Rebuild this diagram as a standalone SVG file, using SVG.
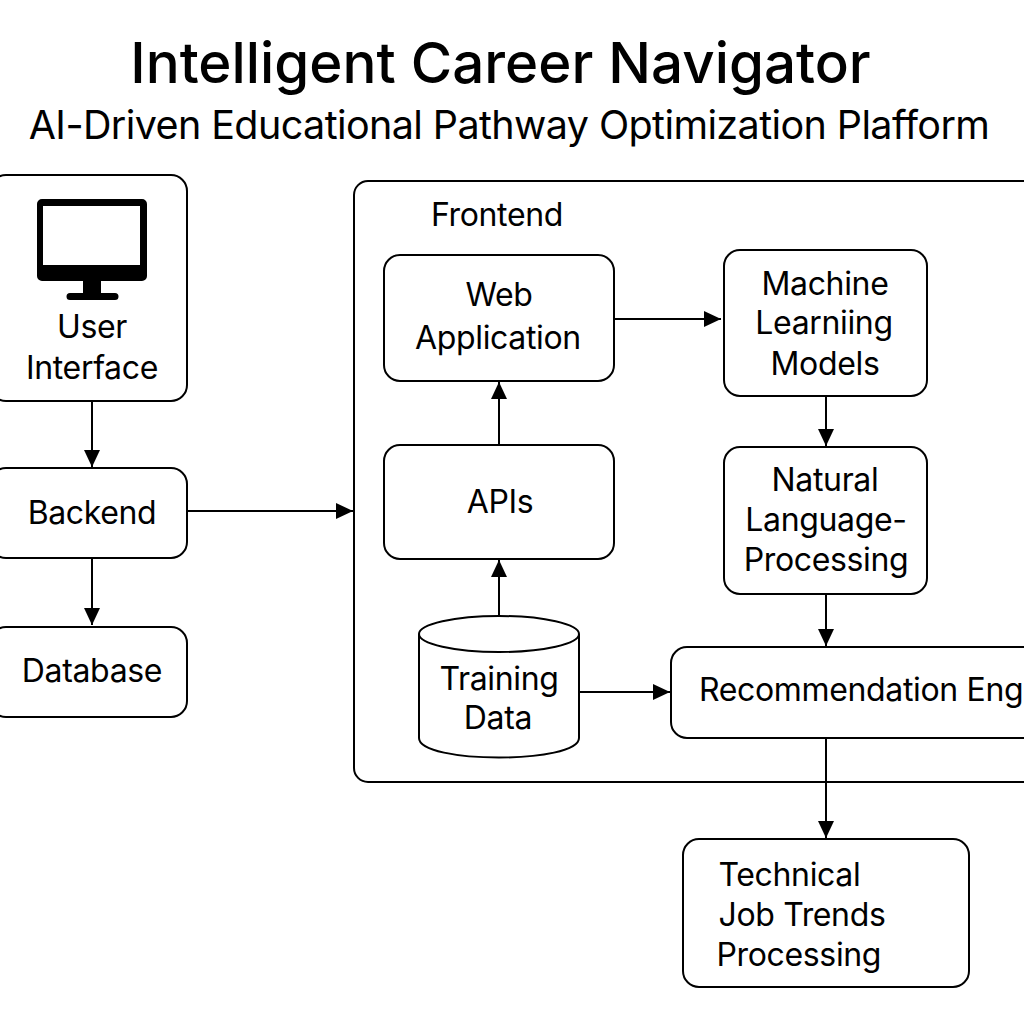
<svg xmlns="http://www.w3.org/2000/svg" width="1024" height="1024" viewBox="0 0 1024 1024">
<defs>
<marker id="arrow" markerUnits="userSpaceOnUse" markerWidth="18" markerHeight="18" refX="17" refY="9" orient="auto"><path d="M0,1 L17,9 L0,17 Z" fill="#000"/></marker>
</defs>
<style>
text{font-family:"Inter","Liberation Sans",sans-serif;fill:#000;text-anchor:middle;font-size:32px;letter-spacing:-0.35px}
.b{fill:#fff;stroke:#000;stroke-width:2}
.c{fill:none;stroke:#000;stroke-width:2;marker-end:url(#arrow)}
</style>
<rect width="1024" height="1024" fill="#fff"/>
<text x="500.500" y="83" style="font-size:56.500px;font-weight:550;letter-spacing:0">Intelligent Career Navigator</text>
<text x="509" y="139" style="font-size:39.500px;letter-spacing:-0.6px">AI-Driven Educational Pathway Optimization Plafform</text>
<g id="frontend-container"><rect class="b" x="354" y="181" width="700" height="601" rx="14"/><text x="497" y="226">Frontend</text></g>
<g id="connectors">
<path class="c" d="M92 402V467"/>
<path class="c" d="M92 558V625"/>
<path class="c" d="M188 511H353"/>
<path class="c" d="M499 445V382"/>
<path class="c" d="M499 616V560"/>
<path class="c" d="M614 319H721"/>
<path class="c" d="M826 396V446"/>
<path class="c" d="M826 594V646"/>
<path class="c" d="M580 692H670"/>
<path class="c" d="M826 738V838"/>
</g>
<g id="user-interface"><rect class="b" x="-10" y="175" width="197" height="226" rx="16"/>
<path d="M42 199H142A5 5 0 0 1 147 204V276A5 5 0 0 1 142 281H101V293H115A3.500 3.500 0 0 1 115 300H70A3.500 3.500 0 0 1 70 293H83V281H42A5 5 0 0 1 37 276V204A5 5 0 0 1 42 199ZM43 206V265H140V206Z" fill="#000" fill-rule="evenodd"/>
<text x="92" y="338">User</text><text x="92" y="379">Interface</text></g>
<g id="backend"><rect class="b" x="-10" y="468" width="197" height="90" rx="16"/><text x="92" y="524">Backend</text></g>
<g id="database"><rect class="b" x="-10" y="627" width="197" height="90" rx="16"/><text x="92" y="682">Database</text></g>
<g id="web-application"><rect class="b" x="384" y="255" width="230" height="126" rx="16"/><text x="499" y="306">Web</text><text x="498" y="349">Application</text></g>
<g id="apis"><rect class="b" x="384" y="445" width="230" height="114" rx="16"/><text x="500" y="513">APIs</text></g>
<g id="training-data"><path class="b" d="M419 634V738C419 764 579 764 579 738V634"/><ellipse class="b" cx="499" cy="634" rx="80" ry="18"/><text x="499" y="690">Training</text><text x="498" y="729">Data</text></g>
<g id="ml-models"><rect class="b" x="724" y="250" width="203" height="146" rx="16"/><text x="825" y="295">Machine</text><text x="824" y="334">Learniing</text><text x="825" y="375">Models</text></g>
<g id="nlp"><rect class="b" x="724" y="447" width="203" height="147" rx="16"/><text x="825" y="491">Natural</text><text x="826" y="531">Language-</text><text x="826" y="571">Processing</text></g>
<g id="recommendation-engine"><rect class="b" x="671" y="647" width="400" height="91" rx="16"/><text x="699" y="701" style="text-anchor:start">Recommendation Eng</text></g>
<g id="job-trends"><rect class="b" x="683" y="839" width="286" height="148" rx="16"/><text x="718.500" y="886" style="text-anchor:start">Technical</text><text x="718.500" y="926" style="text-anchor:start">Job Trends</text><text x="716.500" y="966" style="text-anchor:start">Processing</text></g>
</svg>
